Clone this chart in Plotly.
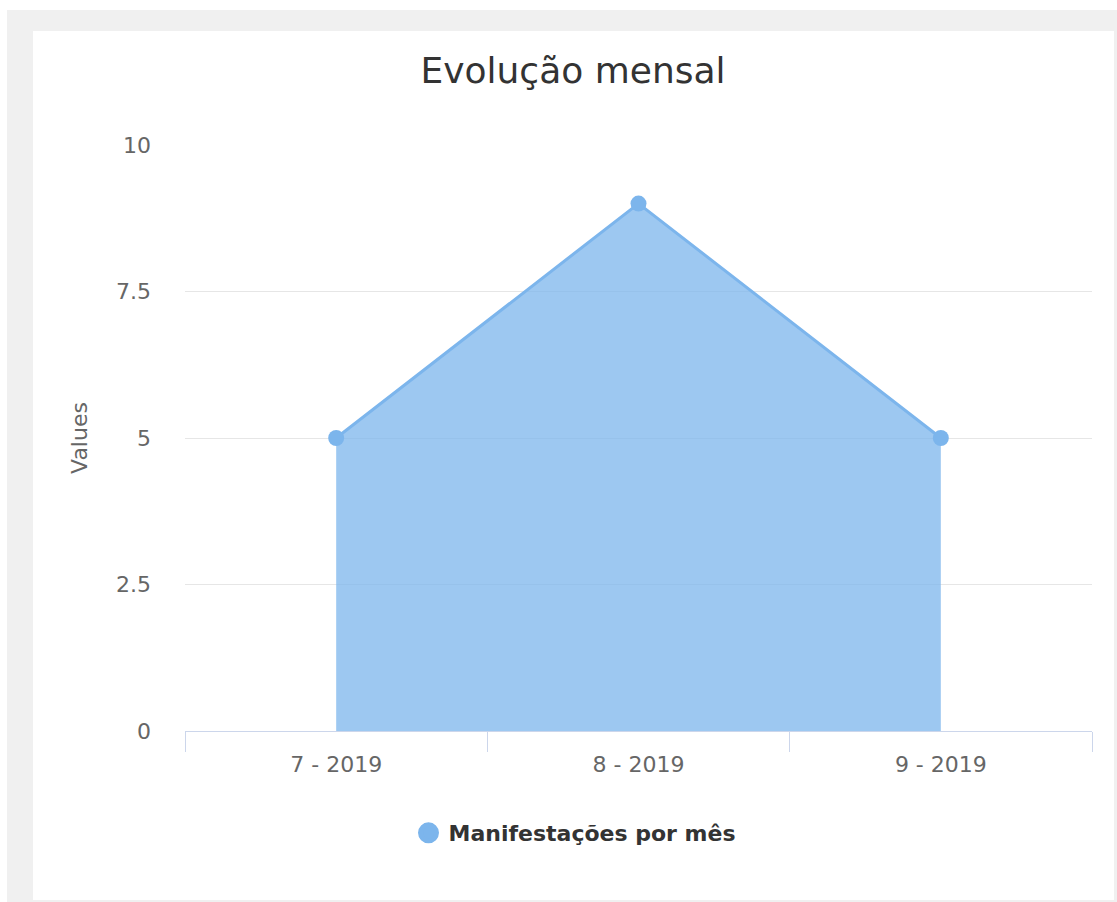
import plotly.graph_objects as go

# ---- data ----
categories = ["7 - 2019", "8 - 2019", "9 - 2019"]
values = [5, 9, 5]
series_name = "Manifestações por mês"
y_tickvals = [0, 2.5, 5, 7.5, 10]
y_ticktext = ["0", "2.5", "5", "7.5", "10"]
chart_title = "Evolução mensal"
y_title = "Values"

# ---- geometry (pixels) ----
W, H = 1117, 902
L, R, T, B = 185, 25, 145, 171
PW, PH = W - L - R, H - T - B

def px(x):
    return (x - L) / PW

def py(y):
    return (H - B - y) / PH

FONT = "DejaVu Sans"
BLUE = "#7cb5ec"

fig = go.Figure()

fig.add_trace(go.Scatter(
    x=categories, y=values,
    mode="lines+markers",
    fill="tozeroy",
    fillcolor="rgba(124,181,236,0.75)",
    line=dict(color=BLUE, width=3),
    marker=dict(color=BLUE, size=16),
    name=series_name,
    showlegend=False,
    hoverinfo="x+y",
))
# legend entry (circle symbol only)
fig.add_trace(go.Scatter(
    x=[None], y=[None], mode="markers",
    marker=dict(color=BLUE, size=16, line=dict(color=BLUE, width=5)),
    name=series_name, showlegend=True,
))

fig.update_layout(
    width=W, height=H,
    margin=dict(l=L, r=R, t=T, b=B, pad=0),
    paper_bgcolor="white",
    plot_bgcolor="rgba(0,0,0,0)",
    font=dict(family=FONT, color="#666666", size=22),
    title=dict(
        text=chart_title,
        font=dict(family=FONT, size=36, color="#333333"),
        x=px(573), xref="paper", xanchor="center",
        y=1 - 70 / H, yref="container", yanchor="middle",
    ),
    legend=dict(
        orientation="h",
        x=px(575), xanchor="center",
        y=py(833), yanchor="middle",
        font=dict(family=FONT, size=22, color="#333333", weight="bold"),
        bgcolor="rgba(0,0,0,0)",
        itemsizing="trace",
    ),
    xaxis=dict(
        type="category",
        range=[-0.5, 2.5],
        showgrid=False,
        showline=True, linecolor="#ccd6eb", linewidth=1,
        ticks="outside", ticklen=20, tickcolor="#ccd6eb", tickwidth=1,
        tickson="boundaries",
        ticklabelstandoff=14,
        tickfont=dict(family=FONT, size=22, color="#666666"),
        zeroline=False,
        fixedrange=True,
    ),
    yaxis=dict(
        range=[0, 10],
        tickvals=y_tickvals, ticktext=y_ticktext,
        showgrid=True, gridcolor="#e6e6e6", gridwidth=1,
        zeroline=False, showline=False,
        ticks="", ticklabelstandoff=33,
        tickfont=dict(family=FONT, size=22, color="#666666"),
        title=dict(text=y_title, standoff=22,
                   font=dict(family=FONT, size=22, color="#666666")),
        fixedrange=True,
    ),
    shapes=[
        dict(type="rect", xref="paper", yref="paper", layer="below",
             x0=px(7), x1=px(1117), y0=py(902), y1=py(10),
             fillcolor="#f0f0f0", line=dict(width=0)),
        dict(type="rect", xref="paper", yref="paper", layer="below",
             x0=px(33), x1=px(1114), y0=py(900), y1=py(31),
             fillcolor="white", line=dict(width=0)),
    ],
)

fig.write_html("out.html", config={"displayModeBar": False},
               post_script="document.body.style.margin='0';")
